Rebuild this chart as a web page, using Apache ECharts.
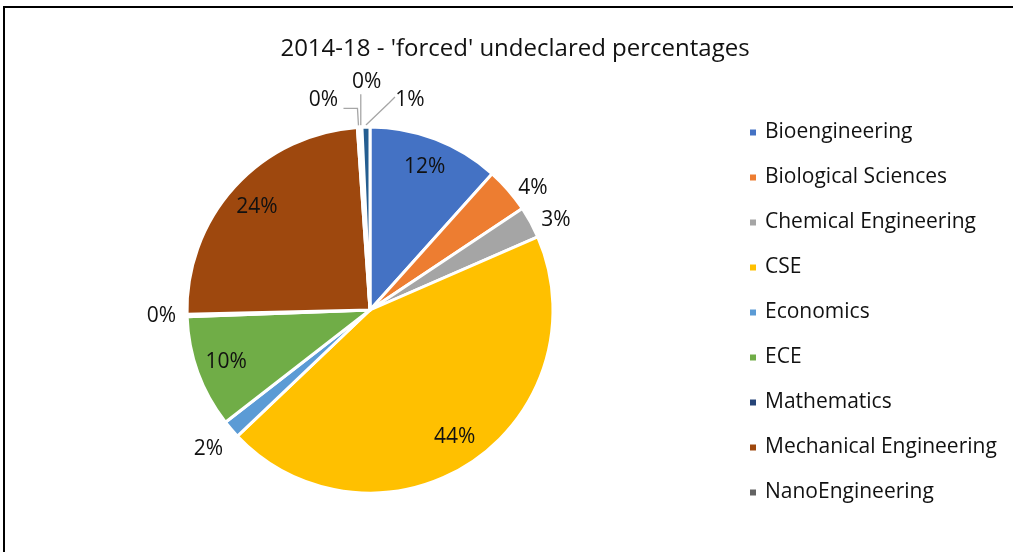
<!DOCTYPE html>
<html>
<head>
<meta charset="utf-8">
<script src="https://cdn.jsdelivr.net/npm/echarts@6/dist/echarts.min.js"></script>
<style>
  html, body { margin: 0; padding: 0; background: #fff; }
  #chart { width: 1013px; height: 552px; }
</style>
</head>
<body>
<div id="chart"></div>
<script>
// Share of 'forced' undeclared students by department, 2014-18 (percent)
const departments = [
  'Bioengineering', 'Biological Sciences', 'Chemical Engineering', 'CSE',
  'Economics', 'ECE', 'Mathematics', 'Mechanical Engineering',
  'NanoEngineering', 'Physics', 'Structural Engineering'
];
const shares = [11.6, 4.0, 2.8, 44.3, 1.6, 9.9, 0.2, 24.2, 0.2, 0.2, 0.7];
// departments listed in the legend
const legendNames = departments.slice(0, 9);
const palette = [
  '#4472C4', '#ED7D31', '#A5A5A5', '#FFC000', '#5B9BD5', '#70AD47',
  '#264478', '#9E480E', '#636363', '#997300', '#255E91'
];

const FONT = '"Open Sans", Lato, sans-serif';
const TEXT = '#111111';
const total = shares.reduce((a, b) => a + b, 0);
const pct = v => v / total * 100;
const INSIDE_MIN = 8;           // slices at or above this share carry their label inside
const center = [370, 310];
const R = 183;

// mid angle of slice i, clockwise from 12 o'clock (radians)
function midAngle(i) {
  let before = 0;
  for (let k = 0; k < i; k++) before += shares[k];
  return (before + shares[i] / 2) / total * Math.PI * 2;
}
function polar(theta, r) {
  return [center[0] + r * Math.sin(theta), center[1] - r * Math.cos(theta)];
}

// callouts for the thin slices at the top of the pie (offsets from the slice rim)
const callouts = {
  8:  { dx: -35, dy: -27, line: (L, e) => [[L[0] + 20, L[1] + 8], [e[0] - 1, L[1] + 8], [e[0], e[1] - 2]] },
  9:  { dx: 6,   dy: -45, line: (L, e) => [[e[0], L[1] + 12], [e[0], L[1] + 20], [e[0], e[1] - 2]] },
  10: { dx: 44,  dy: -27, line: (L, e) => [[L[0] - 15, L[1] - 3], [L[0] - 21, L[1] + 3], [e[0], e[1] - 2]] }
};
// labels pushed out along their slice's mid angle
const radialLabels = { 4: R + 30 };

const outerData = departments.map((name, i) => {
  const big = pct(shares[i]) >= INSIDE_MIN;
  return {
    name,
    value: shares[i],
    itemStyle: { color: palette[i] },
    label: { show: !big },
    labelLine: callouts[i]
      ? { show: true, length: 14, length2: 8 }
      : { show: false, length: 4, length2: 2 }
  };
});

// transparent twin whose mid-radius sits where the inner labels go
const innerData = departments.map((name, i) => ({
  name,
  value: shares[i],
  label: { show: pct(shares[i]) >= INSIDE_MIN }
}));

const labelText = p => Math.round(p.percent) + '%';

const chart = echarts.init(document.getElementById('chart'), null, { renderer: 'canvas' });
chart.setOption({
  animation: false,
  backgroundColor: '#ffffff',
  color: palette,
  title: {
    text: "2014-18 - 'forced' undeclared percentages",
    left: 510, top: 32, textAlign: 'center',
    textStyle: { fontFamily: FONT, fontSize: 24, fontWeight: 'normal', color: TEXT }
  },
  legend: {
    orient: 'vertical',
    left: 748, top: 122,
    padding: 0,
    data: legendNames,
    icon: 'rect',
    itemWidth: 8, itemHeight: 8,
    itemGap: 24,
    textStyle: { fontFamily: FONT, fontSize: 21, color: TEXT, lineHeight: 20, padding: [0, 0, 0, 3] },
    selectedMode: false
  },
  series: [
    {
      type: 'pie',
      center, radius: R,
      startAngle: 90, clockwise: true,
      avoidLabelOverlap: false,
      itemStyle: { borderColor: '#fff', borderWidth: 3 },
      label: {
        position: 'outside',
        formatter: labelText,
        fontFamily: FONT, fontSize: 21, color: TEXT
      },
      labelLine: { lineStyle: { color: '#A6A6A6', width: 1.3 } },
      labelLayout: p => {
        const i = p.dataIndex;
        if (callouts[i]) {
          const c = callouts[i];
          const e = polar(midAngle(i), R);
          const L = [e[0] + c.dx, e[1] + c.dy];
          return { x: L[0], y: L[1], align: 'center', verticalAlign: 'middle', labelLinePoints: c.line(L, e) };
        }
        if (radialLabels[i]) {
          const L = polar(midAngle(i), radialLabels[i]);
          return { x: L[0], y: L[1], align: 'center', verticalAlign: 'middle' };
        }
        return {};
      },
      emphasis: { disabled: true },
      data: outerData
    },
    {
      type: 'pie',
      center, radius: [0, R * 1.64],
      startAngle: 90, clockwise: true,
      silent: true,
      itemStyle: { color: 'rgba(0,0,0,0)', borderWidth: 0 },
      label: {
        position: 'inside',
        formatter: labelText,
        fontFamily: FONT, fontSize: 21, color: TEXT
      },
      labelLine: { show: false },
      emphasis: { disabled: true },
      data: innerData
    }
  ],
  graphic: [
    // chart frame (top and left edges)
    { type: 'polyline', silent: true,
      shape: { points: [[4, 1013], [4, 7], [1013, 7]] },
      style: { stroke: '#000', lineWidth: 2, fill: null } }
  ]
});
</script>
</body>
</html>
